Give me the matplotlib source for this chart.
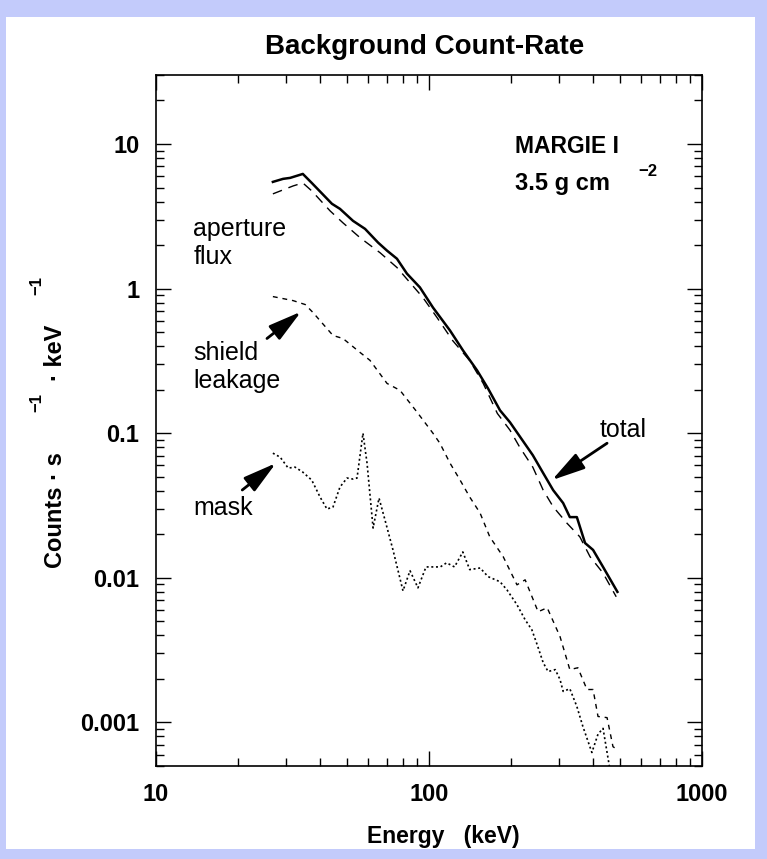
import matplotlib
matplotlib.use('Agg')
import matplotlib.pyplot as plt
from matplotlib.ticker import FixedLocator, NullFormatter, FixedFormatter
from matplotlib.patches import Rectangle

plt.rcParams['font.family'] = ['Liberation Sans', 'DejaVu Sans']

# ---------------- data ----------------
total_E = [26.8, 29.2, 31.0, 34.5, 37.2, 44.1, 47.2, 52.7, 58.3, 65.1, 70.2, 76.3, 83.0, 92.6,
           103.4, 119.4, 133.3, 150.0, 164.5, 182, 198, 240, 262, 285, 310, 328, 348, 373,
           399, 434, 490]
total_V = [5.47, 5.74, 5.83, 6.21, 5.38, 3.86, 3.56, 2.94, 2.59, 2.08, 1.83, 1.61, 1.27, 1.02,
           0.74, 0.513, 0.373, 0.272, 0.204, 0.144, 0.119, 0.0705, 0.053, 0.0404, 0.0329,
           0.0263, 0.0263, 0.0174, 0.0156, 0.0119, 0.0080]

aperture_E = [26.8, 31.8, 34.5, 37.2, 43.4, 48.4, 55.9, 66.2, 76.3, 85.2, 95.0, 107, 122, 141,
              158, 178, 198, 215, 240, 262, 285, 320, 357, 389, 434, 485]
aperture_V = [4.52, 5.13, 5.38, 4.74, 3.45, 2.85, 2.25, 1.77, 1.40, 1.10, 0.867, 0.631, 0.438,
              0.318, 0.221, 0.137, 0.105, 0.080, 0.0583, 0.0404, 0.031, 0.0239, 0.0192,
              0.0140, 0.0108, 0.0074]

shield_E = [26.8, 31.8, 35.2, 37.6, 44.5, 48.4, 55.9, 60.8, 70.2, 78.3, 90.4, 103.4, 109.6,
            119.4, 130, 141, 153.8, 167, 187, 210, 225, 251, 271, 302, 328, 351, 379, 399,
            416, 449, 472, 489]
shield_V = [0.881, 0.826, 0.776, 0.683, 0.474, 0.452, 0.362, 0.319, 0.221, 0.198, 0.140,
            0.100, 0.0853, 0.0621, 0.0474, 0.0362, 0.0281, 0.0192, 0.0140, 0.00895,
            0.00969, 0.00583, 0.00621, 0.00392, 0.00232, 0.00239, 0.00169, 0.00169,
            0.00110, 0.00108, 0.00068, 0.00065]

mask_E = [26.8, 28.5, 30.5, 32.3, 34.5, 37.2, 39.9, 42.3, 44.5, 47.2, 50.1, 52.7, 54.5, 57.3,
          59.3, 62.4, 65.6, 69.0, 73.8, 80.3, 85.2, 91.1, 97.5, 110, 116, 124, 133, 141, 154,
          164.5, 182, 193, 210, 225, 238, 249, 262, 273, 290, 302, 310, 328, 348, 366, 395,
          416, 434, 462]
mask_V = [0.0728, 0.0683, 0.0574, 0.0583, 0.0538, 0.0474, 0.0362, 0.0299, 0.0309, 0.0425,
          0.0490, 0.0482, 0.0490, 0.100, 0.0621, 0.0221, 0.0356, 0.0251, 0.0156, 0.00813,
          0.0112, 0.00853, 0.0119, 0.0119, 0.0127, 0.0119, 0.0151, 0.0114, 0.0117, 0.0102,
          0.0094, 0.00826, 0.00652, 0.00513, 0.00438, 0.00345, 0.00259, 0.00225, 0.00232,
          0.00198, 0.00164, 0.00171, 0.00129, 0.00094, 0.00062, 0.00083, 0.00091, 0.00045]

x_major = [10, 100, 1000]
x_labels = ['10', '100', '1000']
y_major = [0.001, 0.01, 0.1, 1, 10]
y_labels = ['0.001', '0.01', '0.1', '1', '10']

# ---------------- figure ----------------
W, H = 767, 859
fig = plt.figure(figsize=(W / 100, H / 100), dpi=100)
fig.patch.set_facecolor('#c3cbfb')
fig.patches.append(Rectangle((6 / W, 1 - 849 / H), (755 - 6) / W, (849 - 17) / H,
                             transform=fig.transFigure, facecolor='white',
                             edgecolor='none', zorder=-5))

ax = fig.add_axes([156 / W, 1 - 766 / H, (702 - 156) / W, (766 - 75) / H])
ax.set_zorder(2)
ax.set_facecolor('white')
ax.set_xscale('log')
ax.set_yscale('log')
ax.set_xlim(10, 1000)
ax.set_ylim(5e-4, 30)

ax.plot(total_E, total_V, color='black', lw=1.8, ls='-')
ax.plot(aperture_E, aperture_V, color='black', lw=1.0, ls=(0, (7, 5)))
ax.plot(shield_E, shield_V, color='black', lw=1.0, ls=(0, (3.5, 3.5)))
ax.plot(mask_E, mask_V, color='black', lw=1.2, ls=(0, (1.2, 1.6)))

# ticks
ax.xaxis.set_major_locator(FixedLocator(x_major))
ax.xaxis.set_major_formatter(FixedFormatter(x_labels))
xminor = [m * 10 ** d for d in (1, 2) for m in range(2, 10)]
ax.xaxis.set_minor_locator(FixedLocator(xminor))
ax.xaxis.set_minor_formatter(NullFormatter())
ax.yaxis.set_major_locator(FixedLocator(y_major))
ax.yaxis.set_major_formatter(FixedFormatter(y_labels))
yminor = [m * 10 ** d for d in (-4, -3, -2, -1, 0, 1) for m in range(2, 10)]
ax.yaxis.set_minor_locator(FixedLocator(yminor))
ax.yaxis.set_minor_formatter(NullFormatter())

ax.tick_params(which='both', direction='in', top=True, right=True, color='black')
ax.tick_params(which='major', length=11, width=1.0, labelsize=17, pad=12)
ax.tick_params(which='minor', length=6, width=1.0)
for lab in ax.get_xticklabels() + ax.get_yticklabels():
    lab.set_fontweight('bold')
for sp in ax.spines.values():
    sp.set_linewidth(1.2)

# titles / axis labels
fig.text(425 / W, 1 - 47 / H, 'Background Count-Rate', ha='center', va='center',
         fontsize=20, fontweight='bold')
fig.text(443 / W, 1 - 836 / H, 'Energy   (keV)', ha='center', va='center',
         fontsize=16.5, fontweight='bold')

# y label built from pieces (superscripts set high and apart, as in the original)
fig.text(55 / W, 1 - 568 / H, 'Counts \u00b7 s', rotation=90, ha='center', va='bottom',
         fontsize=17, fontweight='bold')
fig.text(37 / W, 1 - 412 / H, '\u22121', rotation=90, ha='center', va='bottom',
         fontsize=12, fontweight='bold')
fig.text(55 / W, 1 - 381 / H, '\u00b7 keV', rotation=90, ha='center', va='bottom',
         fontsize=17, fontweight='bold')
fig.text(37 / W, 1 - 295 / H, '\u22121', rotation=90, ha='center', va='bottom',
         fontsize=12, fontweight='bold')

# annotations
ax.text(206, 9.68, 'MARGIE I', fontsize=16.5, fontweight='bold', ha='left', va='center')
ax.text(206, 5.3, '3.5 g cm', fontsize=17, fontweight='bold', ha='left', va='center')
ax.text(583, 6.5, '\u22122', fontsize=12, fontweight='bold', ha='left', va='center')

ax.text(13.7, 2.59, 'aperture', fontsize=18, ha='left', va='center')
ax.text(13.7, 1.66, 'flux', fontsize=18, ha='left', va='center')
ax.text(13.7, 0.356, 'shield', fontsize=18, ha='left', va='center')
ax.text(13.7, 0.229, 'leakage', fontsize=18, ha='left', va='center')
ax.text(13.7, 0.0304, 'mask', fontsize=18, ha='left', va='center')
ax.text(423, 0.105, 'total', fontsize=18, ha='left', va='center')

aprops = dict(arrowstyle='-|>,head_length=1.35,head_width=0.36', mutation_scale=15,
              lw=2.0, color='black', shrinkA=0, shrinkB=0)
ax.annotate('', xy=(34.0, 0.693), xytext=(25.5, 0.452), arrowprops=aprops)
ax.annotate('', xy=(27.5, 0.0621), xytext=(20.7, 0.0405), arrowprops=aprops)
ax.annotate('', xy=(282, 0.0474), xytext=(449, 0.0853), arrowprops=aprops)

fig.savefig('out.png', dpi=100, facecolor=fig.get_facecolor())
